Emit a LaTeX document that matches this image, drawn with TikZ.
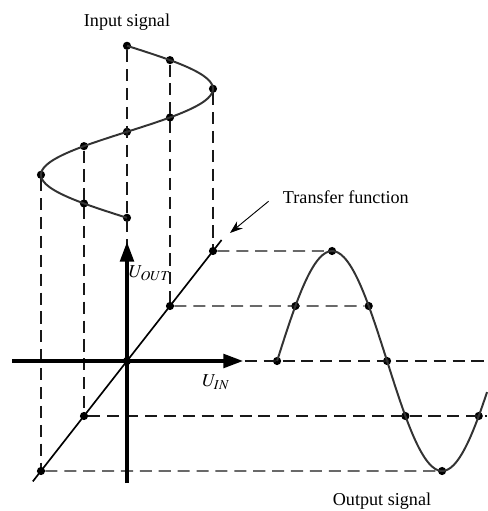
\documentclass[tikz,border=0pt]{standalone}
\usepackage{mathptmx}
\usepackage[no-math]{fontspec}
\setmainfont{Liberation Serif}
\usetikzlibrary{arrows.meta}

\begin{document}
\begin{tikzpicture}[
  dot/.style={circle, fill=black, inner sep=0pt, minimum size=0.19cm},
  guide/.style={draw=black!90, line width=0.85pt, dash pattern=on 8pt off 4.5pt},
  wave/.style={draw=black!80, line width=1.3pt, smooth},
  axis/.style={line width=2.2pt, -{Triangle[length=13pt,width=9pt]}},
  label/.style={font=\fontsize{12}{14}\selectfont}
]
\useasboundingbox (-2.953,-3.488) rectangle (8.372,8.395);

% sample points: input, transfer line, output
\foreach \a [count=\k] in {0,30,90,150,180,210,270,330,360}
  \node[dot] (i\k) at ({2*sin(\a)},{7.33-\a/90}) {};
\foreach \v [count=\k] in {-2,...,2}
  \node[dot] (t\k) at (\v,1.279*\v) {};
\foreach \a [count=\k] in {0,30,90,150,180,210,270,330}
  \node[dot] (o\k) at ({3.49+\a*1.279/90},{2.558*sin(\a)}) {};

\coordinate (e0) at (8.372,0);
\coordinate (e1) at (8.372,-1.279);

% projections
\draw[guide] (i1) -- (t3);
\draw[guide] (i2) -- (t4);
\draw[guide] (i3) -- (t5);
\draw[guide] (i6) -- (t2);
\draw[guide] (i7) -- (t1);
\draw[guide] (t5) -- (o3);
\draw[guide] (t4) -- (o4);
\draw[guide] (t3) -- (e0);
\draw[guide] (t2) -- (e1);
\draw[guide] (t1) -- (o7);

% signals
\draw[wave] plot[domain=0:360, samples=73] ({2*sin(\x)},{7.33-\x/90});
\draw[wave] plot[domain=0:343.6, samples=70] ({3.49+\x*1.279/90},{2.558*sin(\x)});

% transfer line
\coordinate (tfa) at (-2.19,-2.80);
\coordinate (tfb) at (2.2,2.814);
\draw[line width=1.1pt] (tfa) -- (tfb);

% axes
\coordinate (xa) at (-2.67,0);
\coordinate (xb) at (2.70,0);
\coordinate (ya) at (0,-2.84);
\coordinate (yb) at (0,2.77);
\draw[axis] (xa) -- (xb);
\draw[axis] (ya) -- (yb);
\node[label] (uout) at (0.53,2.05) {$U_{OUT}$};
\node[label] (uin) at (2.07,-0.49) {$U_{IN}$};

% texts
\node[label] (insig) at (0,7.87) {Input signal};
\node[label] (outsig) at (5.93,-3.25) {Output signal};
\node[label] (tflab) at (5.09,3.80) {Transfer function};
\coordinate (tfend) at (2.395,2.977);
\draw[line width=0.6pt, -{Stealth[length=8.5pt,width=6pt]}]
  ([shift={(-0.21,0.19)}]tflab.south west) -- (tfend);
\end{tikzpicture}
\end{document}
